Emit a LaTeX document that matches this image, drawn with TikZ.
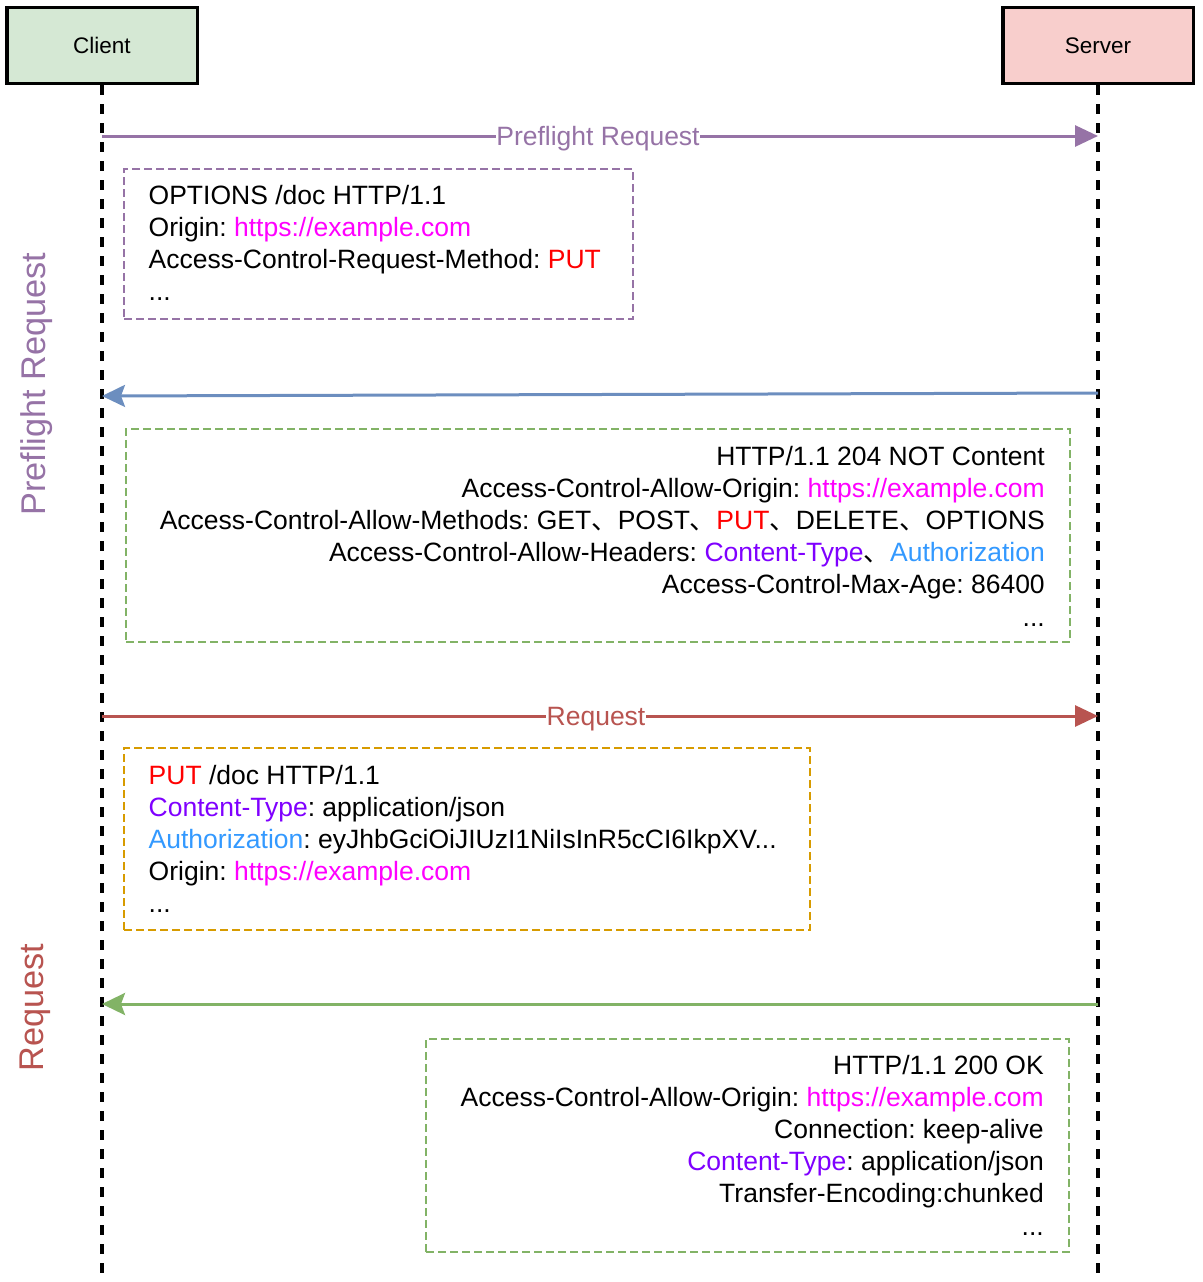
\documentclass[tikz,border=0pt]{standalone}
\usepackage{fontspec}
\setmainfont{Liberation Sans}
\newfontfamily\cjk{Noto Sans CJK SC}
\usetikzlibrary{arrows.meta}
\frenchspacing
\definecolor{cpurple}{HTML}{9673A6}
\definecolor{cblue}{HTML}{6C8EBF}
\definecolor{cred}{HTML}{B85450}
\definecolor{cgreen}{HTML}{82B366}
\definecolor{corange}{HTML}{D79B00}
\definecolor{clientfill}{HTML}{D5E8D4}
\definecolor{serverfill}{HTML}{F8CECC}
\definecolor{urlc}{HTML}{FF00FF}
\definecolor{putc}{HTML}{FF0000}
\definecolor{ctc}{HTML}{7F00FF}
\definecolor{authc}{HTML}{3399FF}
\newcommand{\dun}{{\cjk 、}}
\newcommand{\url}[1]{\textcolor{urlc}{#1}}
\newcommand{\putw}{\textcolor{putc}{PUT}}
\newcommand{\ctw}{\textcolor{ctc}{Content-Type}}
\newcommand{\authw}{\textcolor{authc}{Authorization}}
\begin{document}
\frenchspacing
\begin{tikzpicture}[x=1pt,y=-1pt,
  actor/.style={draw=black, line width=3.5pt, minimum width=190.5pt, minimum height=76pt,
    inner sep=0pt, font=\fontsize{22.5}{27}\selectfont},
  lifeline/.style={draw=black, line width=3.5pt, dash pattern=on 10pt off 9pt},
  msg/.style={line width=3pt},
  tri/.style={-{Triangle[length=23pt,width=21pt]}},
  stl/.style={-{Stealth[length=23pt,width=22pt,inset=4pt]}},
  lbl/.style={fill=white, inner xsep=0.5pt, inner ysep=2pt, yshift=-3pt, font=\fontsize{26.5}{32}\selectfont},
  dbox/.style={line width=2pt, dash pattern=on 8pt off 4pt, inner sep=0pt},
  body/.style={inner sep=0pt, font=\fontsize{26.5}{32.2}\selectfont\frenchspacing},
  side/.style={rotate=90, anchor=base, inner sep=0pt, font=\fontsize{34.3}{40}\selectfont}
]
\useasboundingbox (0,0) rectangle (1202,1282);

% actors
\node[actor, fill=clientfill] (client) at (102,45.3) {Client};
\node[actor, fill=serverfill] (server) at (1098,45.3) {Server};

% lifeline ends
\coordinate (cend) at (102,1282);
\coordinate (send) at (1098,1282);
\draw[lifeline] (client.south) -- (cend);
\draw[lifeline] (server.south) -- (send);

% message anchor points
\coordinate (c1) at (102,136);  \coordinate (s1) at (1098,136);
\coordinate (c2) at (102,396);  \coordinate (s2) at (1098,393);
\coordinate (c3) at (102,716);  \coordinate (s3) at (1098,716);
\coordinate (c4) at (102,1004); \coordinate (s4) at (1098,1004);

% messages
\draw[msg, cpurple, tri] (c1) -- node[lbl, text=cpurple, pos=0.498] (m1) {Preflight Request} (s1);
\draw[msg, cblue, stl] (s2) -- (c2);
\draw[msg, cred, tri] (c3) -- node[lbl, text=cred, pos=0.496] (m3) {Request} (s3);
\draw[msg, cgreen, stl] (s4) -- (c4);

% dashed boxes
\node[dbox, draw=cpurple, minimum width=509pt, minimum height=150pt] (b1) at (378.5,244) {};
\node[dbox, draw=cgreen, minimum width=944pt, minimum height=213pt] (b2) at (598,535.5) {};
\node[dbox, draw=corange, minimum width=686pt, minimum height=182pt] (b3) at (467,839) {};
\node[dbox, draw=cgreen, minimum width=643pt, minimum height=213pt] (b4) at (747.5,1145.5) {};

% texts
\node[body, anchor=north west, align=left] (t1) at (148.5,184.7) {%
OPTIONS /doc HTTP/1.1\\
Origin: \url{https://example.com}\\
Access-Control-Request-Method: \putw\\
...};

\node[body, anchor=north east, align=right] (t2) at (1045,445.7) {%
HTTP/1.1 204 NOT Content\\
Access-Control-Allow-Origin: \url{https://example.com}\\
Access-Control-Allow-Methods: GET\dun POST\dun \putw\dun DELETE\dun OPTIONS\\
Access-Control-Allow-Headers: \ctw\dun \authw\\
Access-Control-Max-Age: 86400\\
...};

\node[body, anchor=north west, align=left] (t3) at (148.5,764.7) {%
\putw{} /doc HTTP/1.1\\
\ctw: application/json\\
\authw: eyJhbGciOiJIUzI1NiIsInR5cCI6IkpXV...\\
Origin: \url{https://example.com}\\
...};

\node[body, anchor=north east, align=right] (t4) at (1044,1054.7) {%
HTTP/1.1 200 OK\\
Access-Control-Allow-Origin: \url{https://example.com}\\
Connection: keep-alive\\
\ctw: application/json\\
Transfer-Encoding:chunked\\
...};

% side labels
\node[side, text=cpurple] (sl1) at (45,384) {Preflight Request};
\node[side, text=cred] (sl2) at (43.5,1007.5) {Request};
\end{tikzpicture}
\end{document}
